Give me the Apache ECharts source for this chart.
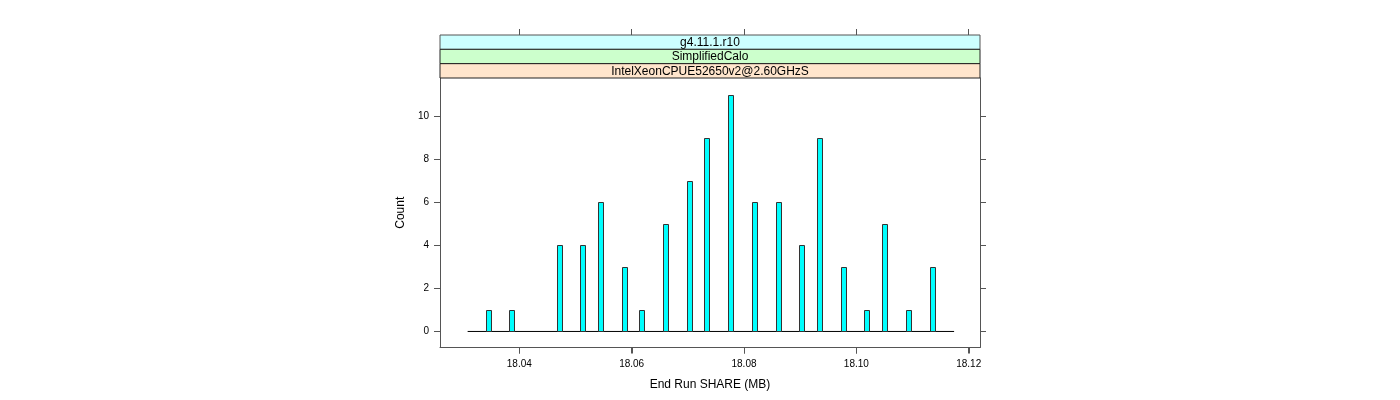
<!DOCTYPE html>
<html>
<head>
<meta charset="utf-8">
<script src="https://cdn.jsdelivr.net/npm/echarts@6/dist/echarts.min.js"></script>
<style>html,body{margin:0;padding:0;background:#fff}#c{width:1400px;height:400px}</style>
</head>
<body>
<div id="c"></div>
<script>
// Data
const binCenters = [18.03455, 18.03875, 18.04719, 18.05134, 18.05449, 18.05876, 18.06190, 18.06611, 18.07033, 18.07347,
                    18.07774, 18.08190, 18.08618, 18.09038, 18.09348, 18.09775, 18.10195, 18.10505, 18.10932, 18.11359];
const counts = [1, 1, 4, 4, 6, 3, 1, 5, 7, 9, 11, 6, 6, 4, 9, 3, 1, 5, 1, 3];
const binWidth = 0.00107;
const histRange = [18.0308, 18.1174];
const xTicks = [18.04, 18.06, 18.08, 18.10, 18.12];
const xTickLabels = ['18.04', '18.06', '18.08', '18.10', '18.12'];
const yTicks = [0, 2, 4, 6, 8, 10];
const stripLabels = ['g4.11.1.r10', 'SimplifiedCalo', 'IntelXeonCPUE52650v2@2.60GHzS'];
const stripColors = ['#ccffff', '#ccffcc', '#ffe5cc'];

const FONT = '"Liberation Sans", Arial, Helvetica, sans-serif';
const G = {left: 440, top: 78, width: 540, height: 269.5};
const stripTop = 35, stripH = (G.top - stripTop) / 3;
const axisCol = '#555';

const chart = echarts.init(document.getElementById('c'));

const graphics = [];
stripLabels.forEach((t, i) => {
  const y = stripTop + i * stripH;
  graphics.push({
    type: 'rect', shape: {x: G.left, y: y, width: G.width, height: stripH},
    style: {fill: stripColors[i], stroke: i === 0 ? axisCol : '#222', lineWidth: 1}, z: 10
  });
  graphics.push({
    type: 'text', x: G.left + G.width / 2, y: y + stripH / 2 + 0.5,
    style: {text: t, fill: '#000', font: '12px ' + FONT, align: 'center', verticalAlign: 'middle'}, z: 11
  });
});

const xMin = 18.02588, xMax = 18.12201, yMin = -0.745, yMax = 11.77;

chart.setOption({
  animation: false,
  backgroundColor: '#fff',
  grid: {left: G.left, top: G.top, width: G.width, height: G.height, show: false},
  graphic: graphics,
  xAxis: [{
    type: 'value', min: xMin, max: xMax, position: 'bottom',
    axisLine: {show: true, onZero: false, lineStyle: {color: axisCol, width: 1}},
    axisTick: {show: true, inside: false, length: 6, lineStyle: {color: axisCol}, customValues: xTicks},
    axisLabel: {show: true, margin: 12, fontSize: 10, fontFamily: FONT, color: '#000', customValues: xTicks,
      formatter: v => { const i = xTicks.findIndex(t => Math.abs(t - v) < 1e-9); return i >= 0 ? xTickLabels[i] : ''; }},
    splitLine: {show: false},
    name: 'End Run SHARE (MB)', nameLocation: 'middle', nameGap: 31,
    nameTextStyle: {fontSize: 12, fontFamily: FONT, color: '#000'}
  }, {
    type: 'value', min: xMin, max: xMax, position: 'top', offset: G.top - stripTop,
    axisLine: {show: false, onZero: false},
    axisTick: {show: true, inside: false, length: 6, lineStyle: {color: axisCol}, customValues: xTicks},
    axisLabel: {show: false},
    splitLine: {show: false}
  }],
  yAxis: [{
    type: 'value', min: yMin, max: yMax, position: 'left',
    axisLine: {show: true, onZero: false, lineStyle: {color: axisCol, width: 1}},
    axisTick: {show: true, inside: false, length: 6, lineStyle: {color: axisCol}, customValues: yTicks},
    axisLabel: {show: true, margin: 11, fontSize: 10, fontFamily: FONT, color: '#000', customValues: yTicks},
    splitLine: {show: false},
    name: 'Count', nameLocation: 'middle', nameGap: 33, nameRotate: 90,
    nameTextStyle: {fontSize: 12, fontFamily: FONT, color: '#000'}
  }, {
    type: 'value', min: yMin, max: yMax, position: 'right',
    axisLine: {show: true, onZero: false, lineStyle: {color: axisCol, width: 1}},
    axisTick: {show: true, inside: false, length: 6, lineStyle: {color: axisCol}, customValues: yTicks},
    axisLabel: {show: false},
    splitLine: {show: false}
  }],
  series: [{
    type: 'line', xAxisIndex: 0, yAxisIndex: 0, symbol: 'none',
    data: [[histRange[0], 0], [histRange[1], 0]],
    lineStyle: {color: '#000', width: 1}, z: 2
  }, {
    type: 'custom', xAxisIndex: 0, yAxisIndex: 0,
    data: binCenters.map((c, i) => [c, counts[i]]),
    renderItem: (params, api) => {
      const c = api.value(0), n = api.value(1);
      const p0 = api.coord([c - binWidth / 2, n]);
      const p1 = api.coord([c + binWidth / 2, 0]);
      return {
        type: 'rect',
        shape: {x: Math.round(p0[0]) + 0.5, y: Math.round(p0[1]) + 0.5, width: Math.round(p1[0] - p0[0]) - 1, height: Math.round(p1[1]) - Math.round(p0[1])},
        style: {fill: '#00ffff', stroke: '#333', lineWidth: 1}
      };
    },
    z: 3
  }]
});

// Bottom tick marks placed through the axis scale
const bottomY = G.top + G.height;
const tickGraphics = xTicks.map(t => {
  const px = Math.round(chart.convertToPixel({xAxisIndex: 0}, t)) + 0.5;
  return {type: 'line', shape: {x1: px, y1: bottomY, x2: px, y2: bottomY + 6},
          style: {stroke: axisCol, lineWidth: 1}, z: 20};
});
chart.setOption({graphic: graphics.concat(tickGraphics)});
</script>
</body>
</html>
